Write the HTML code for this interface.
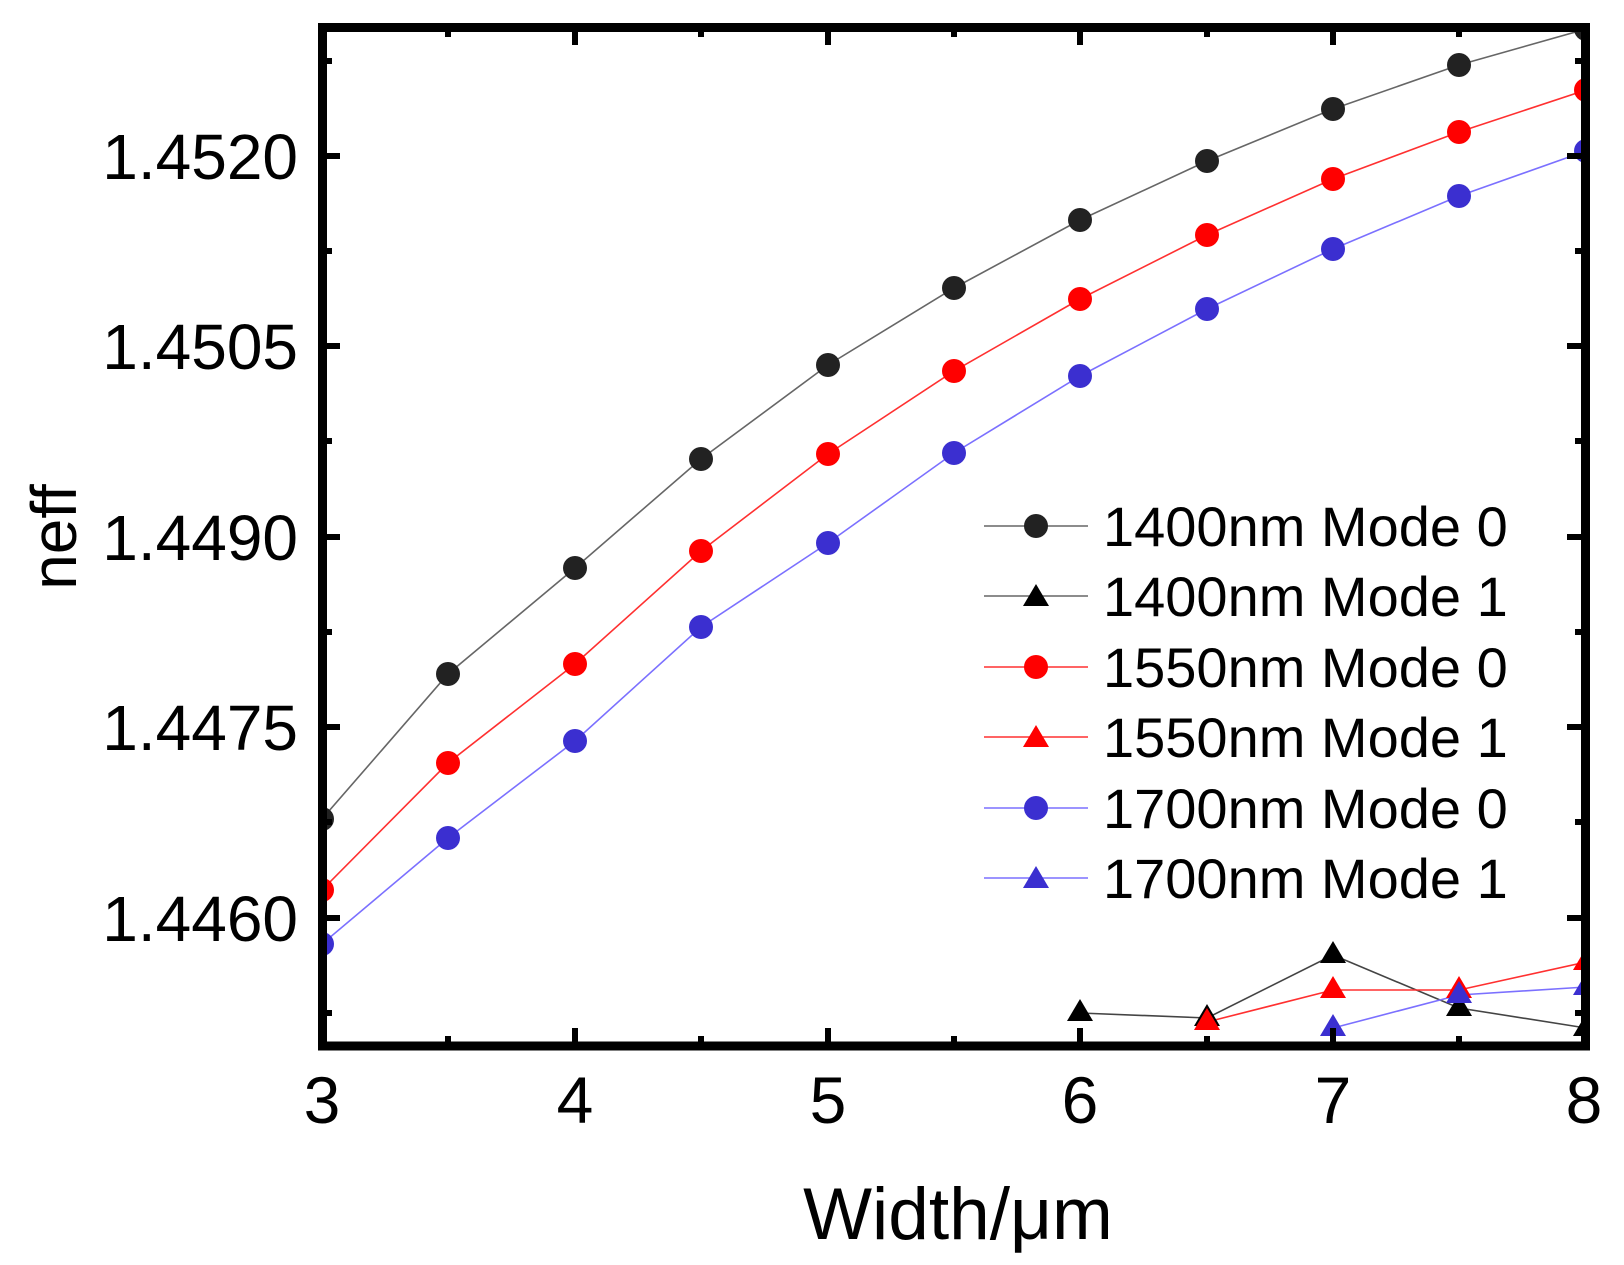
<!DOCTYPE html>
<html><head><meta charset="utf-8"><style>
html,body{margin:0;padding:0;background:#fff;}
svg{display:block;}
text{font-family:"Liberation Sans",Arial,sans-serif;fill:#000;}
</style></head><body>
<svg width="1624" height="1265" viewBox="0 0 1624 1265" xmlns="http://www.w3.org/2000/svg">
<defs><clipPath id="pa"><rect x="322" y="27" width="1264" height="1019"/></clipPath></defs>
<g clip-path="url(#pa)">
<polyline fill="none" stroke="#666" stroke-width="1.6" points="322,819 448,674 575,568 701,459 828,365 954,288 1080,220 1207,161 1333,109 1459,65 1586,29"/>
<polyline fill="none" stroke="#ff3030" stroke-width="1.6" points="322,890 448,763 575,664 701,551 828,454 954,371 1080,299 1207,235 1333,179 1459,132 1586,90"/>
<polyline fill="none" stroke="#7b70ff" stroke-width="1.6" points="322,944 448,838 575,741 701,627 828,543 954,453 1080,376 1207,309 1333,249 1459,196 1586,151"/>
<g fill="#222">
<circle cx="322" cy="819" r="12"/><circle cx="448" cy="674" r="12"/><circle cx="575" cy="568" r="12"/><circle cx="701" cy="459" r="12"/><circle cx="828" cy="365" r="12"/><circle cx="954" cy="288" r="12"/><circle cx="1080" cy="220" r="12"/><circle cx="1207" cy="161" r="12"/><circle cx="1333" cy="109" r="12"/><circle cx="1459" cy="65" r="12"/><circle cx="1586" cy="29" r="12"/>
</g>
<g fill="#f00">
<circle cx="322" cy="890" r="12"/><circle cx="448" cy="763" r="12"/><circle cx="575" cy="664" r="12"/><circle cx="701" cy="551" r="12"/><circle cx="828" cy="454" r="12"/><circle cx="954" cy="371" r="12"/><circle cx="1080" cy="299" r="12"/><circle cx="1207" cy="235" r="12"/><circle cx="1333" cy="179" r="12"/><circle cx="1459" cy="132" r="12"/><circle cx="1586" cy="90" r="12"/>
</g>
<g fill="#3b2fd0">
<circle cx="322" cy="944" r="12"/><circle cx="448" cy="838" r="12"/><circle cx="575" cy="741" r="12"/><circle cx="701" cy="627" r="12"/><circle cx="828" cy="543" r="12"/><circle cx="954" cy="453" r="12"/><circle cx="1080" cy="376" r="12"/><circle cx="1207" cy="309" r="12"/><circle cx="1333" cy="249" r="12"/><circle cx="1459" cy="196" r="12"/><circle cx="1586" cy="151" r="12"/>
</g>
<polyline fill="none" stroke="#444" stroke-width="1.6" points="1080,1013 1207,1018 1333,955 1459,1008 1586,1028"/>
<polyline fill="none" stroke="#ff3030" stroke-width="1.6" points="1207,1022 1333,990 1459,990 1586,962"/>
<polyline fill="none" stroke="#7b70ff" stroke-width="1.6" points="1333,1028 1459,995 1586,987"/>
<g fill="#000">
<polygon points="1080,999 1093,1021 1067,1021"/><polygon points="1207,1004 1220,1026 1194,1026"/><polygon points="1333,941 1346,963 1320,963"/><polygon points="1459,994 1472,1016 1446,1016"/><polygon points="1586,1014 1599,1036 1573,1036"/>
</g>
<g fill="#f00">
<polygon points="1207,1008 1220,1030 1194,1030"/><polygon points="1333,976 1346,998 1320,998"/><polygon points="1459,976 1472,998 1446,998"/><polygon points="1586,948 1599,970 1573,970"/>
</g>
<g fill="#3b2fd0">
<polygon points="1333,1014 1346,1036 1320,1036"/><polygon points="1459,981 1472,1003 1446,1003"/><polygon points="1586,973 1599,995 1573,995"/>
</g>
</g>
<rect x="322.5" y="27.5" width="1263" height="1018.5" fill="none" stroke="#000" stroke-width="9"/>
<g stroke="#000" stroke-width="6">
<path d="M448,1046v-10M575,1046v-18M701,1046v-10M828,1046v-18M954,1046v-10M1080,1046v-18M1207,1046v-10M1333,1046v-18M1459,1046v-10"/>
<path d="M448,27v10M575,27v18M701,27v10M828,27v18M954,27v10M1080,27v18M1207,27v10M1333,27v18M1459,27v10"/>
<path d="M322,61h10M322,156h18M322,251h10M322,346h18M322,441h10M322,537h18M322,632h10M322,727h18M322,822h10M322,918h18M322,1013h10"/>
<path d="M1585,61h-10M1585,156h-18M1585,251h-10M1585,346h-18M1585,441h-10M1585,537h-18M1585,632h-10M1585,727h-18M1585,822h-10M1585,918h-18M1585,1013h-10"/>
</g>
<g font-size="64" text-anchor="end">
<text x="298" y="179">1.4520</text>
<text x="298" y="369">1.4505</text>
<text x="298" y="560">1.4490</text>
<text x="298" y="750">1.4475</text>
<text x="298" y="941">1.4460</text>
</g>
<g font-size="66" text-anchor="middle">
<text x="322" y="1123">3</text><text x="575" y="1123">4</text><text x="828" y="1123">5</text><text x="1080" y="1123">6</text><text x="1333" y="1123">7</text><text x="1584" y="1123">8</text>
</g>
<text x="958" y="1239" font-size="73" text-anchor="middle">Width/μm</text>
<text transform="translate(76,537) rotate(-90)" font-size="64" text-anchor="middle">neff</text>
<g stroke-width="1.6">
<line x1="984" y1="526" x2="1088" y2="526" stroke="#666"/>
<line x1="984" y1="596" x2="1088" y2="596" stroke="#666"/>
<line x1="984" y1="667" x2="1088" y2="667" stroke="#ff3030"/>
<line x1="984" y1="737" x2="1088" y2="737" stroke="#ff3030"/>
<line x1="984" y1="808" x2="1088" y2="808" stroke="#7b70ff"/>
<line x1="984" y1="878" x2="1088" y2="878" stroke="#7b70ff"/>
</g>
<circle cx="1036" cy="526" r="12" fill="#222"/>
<polygon points="1036,584 1049,606 1023,606" fill="#000"/>
<circle cx="1036" cy="667" r="12" fill="#f00"/>
<polygon points="1036,725 1049,747 1023,747" fill="#f00"/>
<circle cx="1036" cy="808" r="12" fill="#3b2fd0"/>
<polygon points="1036,866 1049,888 1023,888" fill="#3b2fd0"/>
<g font-size="56">
<text x="1103" y="546">1400nm Mode 0</text>
<text x="1103" y="616">1400nm Mode 1</text>
<text x="1103" y="687">1550nm Mode 0</text>
<text x="1103" y="757">1550nm Mode 1</text>
<text x="1103" y="828">1700nm Mode 0</text>
<text x="1103" y="898">1700nm Mode 1</text>
</g>
</svg>
</body></html>
